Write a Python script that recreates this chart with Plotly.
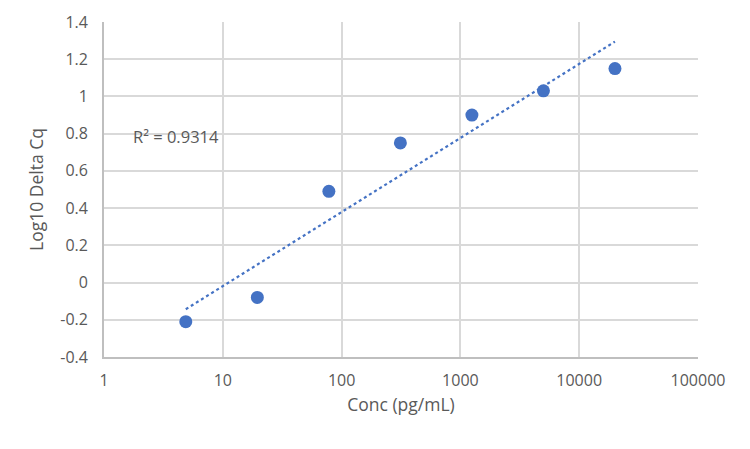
import numpy as np
import plotly.graph_objects as go

# concentrations (pg/mL) and log10 delta Cq
conc = [4.88, 19.53, 78.13, 312.5, 1250, 5000, 20000]
log_delta_cq = [-0.21, -0.08, 0.49, 0.75, 0.90, 1.03, 1.15]

x_ticks = [1, 10, 100, 1000, 10000, 100000]
x_tick_labels = ["1", "10", "100", "1000", "10000", "100000"]
y_ticks = [-0.4, -0.2, 0, 0.2, 0.4, 0.6, 0.8, 1, 1.2, 1.4]
y_tick_labels = ["-0.4", "-0.2", "0", "0.2", "0.4", "0.6", "0.8", "1", "1.2", "1.4"]

r2_label = "R² = 0.9314"

BLUE = "#4472C4"
TEXT = "#595959"
GRID = "#D9D9D9"

# logarithmic trendline like Excel: y = a*log(x) + b
lx = np.log10(conc)
a, b = np.polyfit(lx, log_delta_cq, 1)
trend_x = np.logspace(lx.min(), lx.max(), 50)
trend_y = a * np.log10(trend_x) + b

fig = go.Figure()
fig.add_trace(go.Scatter(x=trend_x, y=trend_y, mode="lines",
                         line=dict(color=BLUE, width=2.2, dash="dot"),
                         hoverinfo="skip"))
fig.add_trace(go.Scatter(x=conc, y=log_delta_cq, mode="markers",
                         marker=dict(color=BLUE, size=13)))

fig.add_annotation(x=0.61, y=0.785, xref="x", yref="y", text=r2_label,
                   showarrow=False, font=dict(size=16.5, color=TEXT))

fig.update_layout(
    width=750, height=449,
    margin=dict(l=96, r=60, t=14, b=100),
    paper_bgcolor="white", plot_bgcolor="white",
    showlegend=False,
    font=dict(family="Open Sans, Noto Sans, sans-serif", size=16, color=TEXT),
)
fig.update_xaxes(type="log", range=[0, 5], tickvals=x_ticks, ticktext=x_tick_labels,
                 automargin=False,
                 showgrid=True, gridcolor=GRID, gridwidth=1.8,
                 showline=True, linecolor="#BFBFBF", linewidth=1.8,
                 ticks="outside", ticklen=8, tickcolor="rgba(0,0,0,0)",
                 title=dict(text="Conc (pg/mL)", font=dict(size=17.5), standoff=9),
                 zeroline=False)
fig.update_yaxes(range=[-0.4, 1.4], tickvals=y_ticks, ticktext=y_tick_labels,
                 automargin=False,
                 showgrid=True, gridcolor=GRID, gridwidth=1.8,
                 showline=True, linecolor="#BFBFBF", linewidth=1.8,
                 ticks="outside", ticklen=11, tickcolor="rgba(0,0,0,0)",
                 title=dict(text="Log10 Delta Cq", font=dict(size=17.5), standoff=12),
                 zeroline=False)

fig.write_html("out.html")
